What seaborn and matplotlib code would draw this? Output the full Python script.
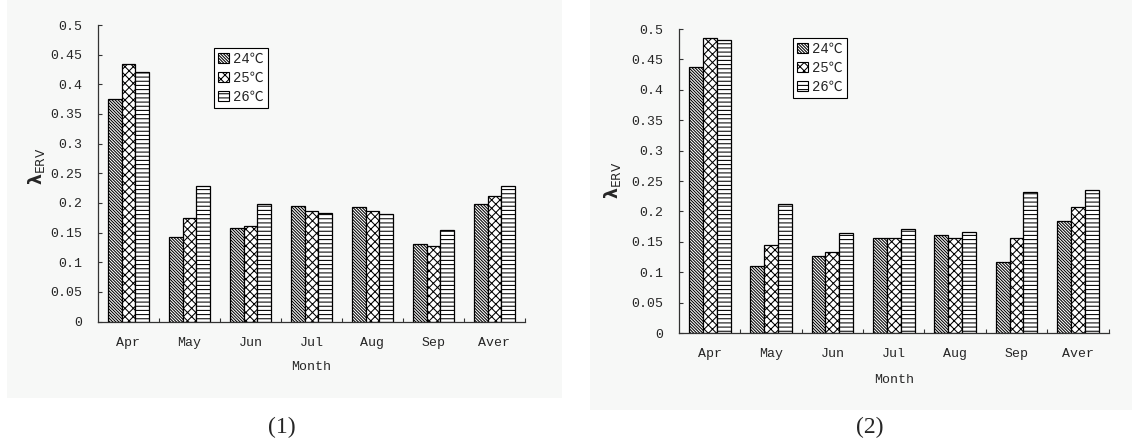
import numpy as np
import pandas as pd
import matplotlib
matplotlib.use("Agg")
import matplotlib.pyplot as plt
from matplotlib.patches import Patch, Rectangle
from matplotlib.font_manager import FontProperties
import seaborn as sns

# ---- data -------------------------------------------------------------
months = ["Apr", "May", "Jun", "Jul", "Aug", "Sep", "Aver"]
temps = ["24℃", "25℃", "26℃"]

# panel (1)
p1_t24 = [0.376, 0.142, 0.157, 0.194, 0.193, 0.131, 0.198]
p1_t25 = [0.434, 0.174, 0.161, 0.187, 0.186, 0.127, 0.212]
p1_t26 = [0.421, 0.229, 0.198, 0.183, 0.182, 0.155, 0.228]

# panel (2)
p2_t24 = [0.437, 0.110, 0.126, 0.156, 0.161, 0.117, 0.185]
p2_t25 = [0.485, 0.145, 0.133, 0.156, 0.157, 0.157, 0.207]
p2_t26 = [0.482, 0.212, 0.164, 0.171, 0.166, 0.232, 0.236]

y_ticks = [0, 0.05, 0.1, 0.15, 0.2, 0.25, 0.3, 0.35, 0.4, 0.45, 0.5]
panel_titles = ["(1)", "(2)"]
x_title = "Month"
y_title = r"$\boldsymbol{\lambda}_{\mathrm{ERV}}$"

# ---- style ------------------------------------------------------------
sns.set_style("white")
plt.rcParams["font.family"] = ["Liberation Mono", "Noto Sans CJK SC", "DejaVu Sans"]
plt.rcParams["hatch.linewidth"] = 0.75
plt.rcParams["hatch.color"] = "black"
plt.rcParams["mathtext.fontset"] = "dejavusans"

hatches = ["\\" * 11, "xxxx", "----"]
panel_bg = "#f7f8f7"
W, H = 1132, 448

fig = plt.figure(figsize=(W / 100, H / 100), dpi=100)
fig.patch.set_facecolor("white")

# light background card behind each chart
for (x0, x1, y1) in [(7, 562, 398), (590, 1132, 410)]:
    fig.add_artist(Rectangle((x0 / W, 1 - y1 / H), (x1 - x0) / W, y1 / H,
                             transform=fig.transFigure, facecolor=panel_bg,
                             edgecolor="none", zorder=-10))


def px_axes(x0, x1, ytop, ybot):
    return fig.add_axes([x0 / W, 1 - ybot / H, (x1 - x0) / W, (ybot - ytop) / H])


def draw_panel(ax, s24, s25, s26, legend_xy, ylab_xy, xlab_y):
    df = pd.DataFrame({
        "Month": months * 3,
        "Temp": [temps[0]] * 7 + [temps[1]] * 7 + [temps[2]] * 7,
        "value": list(s24) + list(s25) + list(s26),
    })
    sns.barplot(data=df, x="Month", y="value", hue="Temp", order=months,
                hue_order=temps, palette=["white"] * 3, saturation=1,
                width=0.68, edgecolor="black", linewidth=0.9,
                legend=False, ax=ax)
    for cont, h in zip(ax.containers, hatches):
        for bar in cont:
            bar.set_hatch(h)
            bar.set_facecolor("white")
            bar.set_edgecolor("black")

    ax.set_facecolor("none")
    ax.set_xlim(-0.5, 6.5)
    ax.set_ylim(0, 0.5)
    ax.set_yticks(y_ticks)
    ax.set_yticklabels([f"{v:g}" for v in y_ticks])
    ax.set_xticks(range(len(months)))
    ax.set_xticklabels(months)
    ax.set_xticks(np.arange(0.5, len(months), 1.0), minor=True)
    ax.tick_params(axis="x", which="major", length=0, pad=11, labelsize=9.5)
    ax.tick_params(axis="x", which="minor", direction="in", length=3,
                   width=0.8, color="#333333", bottom=True)
    ax.tick_params(axis="y", which="major", direction="in", length=3,
                   width=0.8, color="#333333", pad=11, labelsize=9.5, left=True)
    for side in ["top", "right"]:
        ax.spines[side].set_visible(False)
    for side in ["left", "bottom"]:
        ax.spines[side].set_color("#333333")
        ax.spines[side].set_linewidth(0.9)

    ax.set_xlabel(x_title, fontsize=9.5)
    ax.xaxis.set_label_coords(0.5, xlab_y)
    ax.xaxis.label.set_va("center")
    ax.set_ylabel(y_title, fontsize=12.5)
    ax.yaxis.set_label_coords(*ylab_xy)
    ax.yaxis.label.set_va("center")

    handles = [Patch(facecolor="white", edgecolor="black", hatch=h,
                     linewidth=0.8, label=t) for h, t in zip(hatches, temps)]
    leg = ax.legend(handles=handles, loc="upper left",
                    bbox_to_anchor=(legend_xy[0] / W, 1 - legend_xy[1] / H),
                    bbox_transform=fig.transFigure, frameon=True,
                    fancybox=False, framealpha=1, facecolor="white",
                    edgecolor="black", borderaxespad=0, borderpad=0.3,
                    labelspacing=0.35, handlelength=0.75, handleheight=0.75,
                    handletextpad=0.3,
                    prop=FontProperties(family=["Liberation Mono", "Noto Sans CJK SC"],
                                        size=10))
    leg.get_frame().set_linewidth(0.8)


ax1 = px_axes(98, 525, 25, 321.5)
draw_panel(ax1, p1_t24, p1_t25, p1_t26, legend_xy=(214, 48),
           ylab_xy=(-0.143, 0.524), xlab_y=-0.152)

ax2 = px_axes(679, 1108.5, 29, 333)
draw_panel(ax2, p2_t24, p2_t25, p2_t26, legend_xy=(793, 38),
           ylab_xy=(-0.154, 0.503), xlab_y=-0.155)

for title, xc in zip(panel_titles, [282, 870]):
    fig.text(xc / W, 1 - 427 / H, title, ha="center", va="center",
             family="Liberation Serif", fontsize=17)

fig.savefig("out.png", dpi=100)
